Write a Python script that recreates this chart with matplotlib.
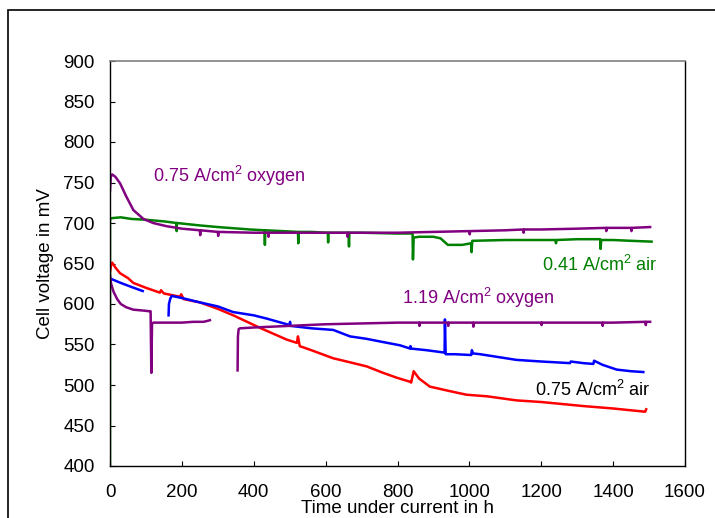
import matplotlib
matplotlib.use("Agg")
import matplotlib.pyplot as plt
from matplotlib.patches import Rectangle

plt.rcParams['font.family'] = ['Liberation Sans', 'DejaVu Sans']
plt.rcParams['mathtext.fontset'] = 'custom'
plt.rcParams['mathtext.rm'] = 'Liberation Sans'
plt.rcParams['mathtext.default'] = 'regular'

# ---- durability data: time under current (h) vs cell voltage (mV) ----
# 0.41 A/cm2, air (green)
air041_t = [0, 0, 5, 30, 60, 100, 150, 185, 185.5, 186, 250, 300, 389, 430, 431, 432,
            480, 523, 524, 525, 560, 606, 607, 608, 640, 664, 665, 666, 700, 800,
            842, 843, 845, 860, 900, 920, 940, 980, 1005, 1006, 1008, 1100, 1200,
            1240, 1241, 1242, 1300, 1364, 1365, 1367, 1400, 1450, 1507]
air041_v = [400, 705, 706, 707, 705, 704, 702, 700, 690, 700, 697, 695, 692, 691, 673, 691,
            690, 689, 675, 689, 689, 688, 676, 688, 688, 688, 671, 688, 688, 687,
            687, 655, 682, 683, 683, 681, 673, 673, 675, 664, 678, 679, 679,
            679, 675, 679, 680, 680, 668, 679, 679, 678, 677]

# 0.75 A/cm2, oxygen (purple, upper)
oxy075_t = [0, 2, 6, 15, 28, 45, 65, 93, 120, 158, 200, 250, 251, 252, 300, 301, 302,
            400, 440, 441, 442, 500, 600, 660, 661, 662, 700, 800, 900, 1000, 1001, 1002,
            1100, 1150, 1151, 1152, 1200, 1300, 1380, 1381, 1382, 1450, 1451, 1452, 1503]
oxy075_v = [740, 757, 760, 757, 749, 733, 716, 705, 700, 696, 693, 691, 685, 691, 689, 684, 689,
            688, 688, 683, 688, 688, 688, 688, 683, 688, 688, 688, 689, 690, 686, 690,
            691, 692, 688, 692, 692, 693, 694, 690, 694, 694, 690, 694, 695]

# 0.75 A/cm2, air (red)
air075_t = [0, 3, 6, 15, 28, 50, 65, 100, 139, 142, 150, 195, 198, 205, 250, 300, 343,
            420, 492, 520, 523, 528, 560, 621, 668, 714, 760, 798, 835, 838, 845, 860,
            890, 950, 992, 1050, 1131, 1200, 1317, 1400, 1489, 1492]
air075_v = [640, 648, 651, 645, 638, 632, 626, 620, 614, 617, 613, 609, 612, 606, 602, 594, 586,
            570, 556, 552, 560, 548, 543, 533, 528, 523, 515, 509, 504, 503, 517, 508,
            498, 492, 488, 486, 481, 479, 474, 471, 467, 470]

# 0.75 A/cm2, air, second cell (blue) - two runs
cellb1_t = [0, 3, 30, 60, 91]
cellb1_v = [625, 631, 626, 621, 616]
cellb2_t = [163, 164, 168, 172, 204, 250, 300, 343, 400, 436, 492, 500, 501, 502, 560, 621,
            668, 714, 760, 807, 835, 836, 837, 880, 931, 932, 934, 960, 1005, 1007, 1010,
            1030, 1131, 1200, 1280, 1282, 1317, 1345, 1347, 1370, 1410, 1450, 1484]
cellb2_v = [586, 600, 607, 610, 607, 602, 597, 590, 586, 582, 575, 574, 578, 573, 570, 568,
            560, 557, 553, 549, 545, 548, 545, 543, 540, 581, 538, 538, 537, 543, 539,
            538, 531, 529, 527, 529, 527, 526, 530, 525, 519, 517, 516]

# 1.19 A/cm2, oxygen (purple, lower) - two runs
oxy119a_t = [0, 3, 10, 20, 30, 45, 65, 90, 111, 113, 115, 117, 121, 150, 200, 232, 260, 270, 278]
oxy119a_v = [635, 625, 615, 606, 600, 596, 593, 592, 591, 591, 515, 576, 577, 577, 577, 578, 578, 579, 580]
oxy119b_t = [355, 356, 358, 362, 400, 450, 500, 600, 700, 800, 860, 861, 862, 940, 941, 942,
             1010, 1011, 1012, 1100, 1200, 1201, 1202, 1300, 1370, 1371, 1372, 1400, 1490, 1491, 1492, 1503]
oxy119b_v = [518, 560, 569, 570, 571, 572, 573, 575, 576, 577, 577, 573, 577, 577, 573, 577,
             577, 572, 577, 577, 577, 574, 577, 577, 577, 573, 577, 577, 578, 574, 578, 578]

labels = ['0.75 A/cm$^2$ oxygen', '0.41 A/cm$^2$ air', '1.19 A/cm$^2$ oxygen', '0.75 A/cm$^2$ air']

xticks = list(range(0, 1601, 200))
yticks = list(range(400, 901, 50))

PURPLE, GREEN, RED, BLUE = '#800080', '#008000', '#FF0000', '#0000FF'

fig = plt.figure(figsize=(7.15, 5.18), dpi=100)
ax = fig.add_axes([110/715, 1 - 466/518, 575/715, 405/518])

lw = 1.8
ax.plot(air041_t, air041_v, color=GREEN, lw=lw)
ax.plot(oxy075_t, oxy075_v, color=PURPLE, lw=lw)
ax.plot(air075_t, air075_v, color=RED, lw=lw)
ax.plot(cellb1_t, cellb1_v, color=BLUE, lw=lw)
ax.plot(cellb2_t, cellb2_v, color=BLUE, lw=lw)
ax.plot(oxy119a_t, oxy119a_v, color=PURPLE, lw=lw)
ax.plot(oxy119b_t, oxy119b_v, color=PURPLE, lw=lw)

fs_note = 13
ax.text(120, 750.5, labels[0], color=PURPLE, fontsize=fs_note, ha='left', va='baseline')
ax.text(1201, 641, labels[1], color=GREEN, fontsize=fs_note, ha='left', va='baseline')
ax.text(812, 600, labels[2], color=PURPLE, fontsize=fs_note, ha='left', va='baseline')
ax.text(1183, 487, labels[3], color='black', fontsize=fs_note, ha='left', va='baseline')

fs = 13.5
ax.set_xlim(0, 1600)
ax.set_ylim(400, 900)
ax.set_xticks(xticks)
ax.set_yticks(yticks)
ax.tick_params(axis='both', direction='in', length=3.5, width=0.8, labelsize=fs, colors='black')
ax.tick_params(axis='x', pad=13)
ax.tick_params(axis='y', pad=11)

for side in ['left', 'bottom', 'right']:
    ax.spines[side].set_linewidth(1.0)
    ax.spines[side].set_color('black')
ax.spines['top'].set_color('#808080')
ax.spines['top'].set_linewidth(1.2)

ax.set_xlabel('Time under current in h', fontsize=fs)
ax.set_ylabel('Cell voltage in mV', fontsize=fs)
ax.xaxis.set_label_coords(0.5, -0.083)
ax.yaxis.set_label_coords(-0.0974, 0.5)

# outer frame of the chart area
fig.add_artist(Rectangle((8/715, -0.5), 2.0, (518 - 10)/518 + 0.5,
                         transform=fig.transFigure, fill=False, lw=1.2, ec='black'))

fig.savefig('out.png', dpi=100)
